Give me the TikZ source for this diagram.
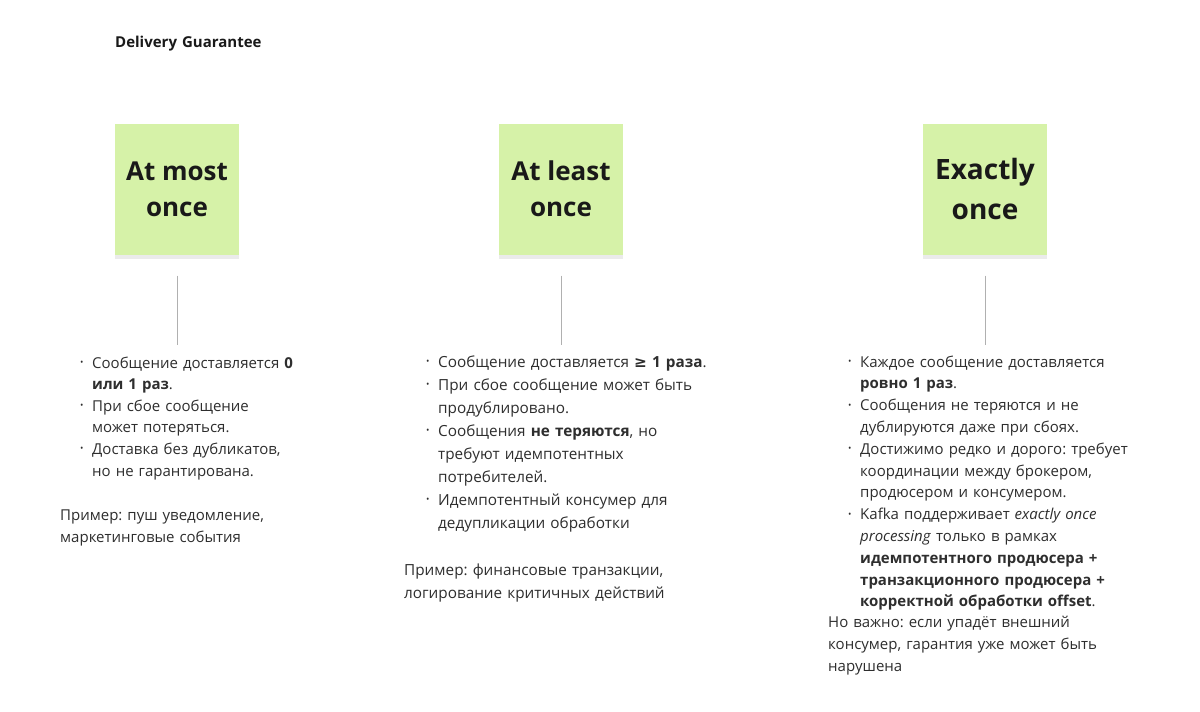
\documentclass[tikz,border=0pt]{standalone}
\usepackage{fontspec}
\setmainfont{Open Sans}
\newfontfamily\dvs{DejaVu Sans}
\usetikzlibrary{shadows}
\frenchspacing
\definecolor{sticky}{HTML}{D6F2A8}
\definecolor{txtc}{HTML}{2E2E2E}
\definecolor{linec}{HTML}{B0B0B0}
\newcommand{\bul}{\makebox[12pt][l]{\raisebox{0.3ex}{\fontsize{9}{9}\selectfont\textbullet}}}
\newcommand{\ind}{\hspace*{12pt}}
\tikzset{
  note/.style={fill=sticky, minimum width=124pt, minimum height=131pt, inner sep=0pt,
    align=center, font=\bfseries\fontsize{26}{36}\selectfont, text=black!90,
    drop shadow={shadow xshift=0pt, shadow yshift=-4pt, opacity=0.08, fill=black}},
  txt/.style={anchor=base west, inner sep=0pt, text width=330pt, align=left, text=txtc},
  conn/.style={draw=linec, line width=0.6pt},
}
\begin{document}
\begin{tikzpicture}[x=1pt,y=-1pt]
\useasboundingbox[fill=white] (0,0) rectangle (1200,712);

\node[txt, font=\bfseries\fontsize{15}{18}\selectfont, text=black!90] (title) at (115,47) {Delivery Guarantee};

\node[note] (n1) at (177,189) {At most\\once};
\node[note] (n2) at (561,189) {At least\\once};
\node[note, font=\bfseries\fontsize{28}{40}\selectfont] (n3) at (985,189) {Exactly\\once};

% column 1
\node[txt, font=\fontsize{15}{21.6}\selectfont] (c1) at (80,368) {%
\bul Сообщение доставляется \textbf{0}\\
\ind\textbf{или 1 раз}.\\
\bul При сбое сообщение\\
\ind может потеряться.\\
\bul Доставка без дубликатов,\\
\ind но не гарантирована.};
\node[txt, font=\fontsize{15}{22}\selectfont] (e1) at (60,520) {Пример: пуш уведомление,\\маркетинговые события};

% column 2
\node[txt, font=\fontsize{15.3}{23}\selectfont] (c2) at (426,367) {%
\bul Сообщение доставляется \textbf{{\dvs ≥} 1 раза}.\\
\bul При сбое сообщение может быть\\
\ind продублировано.\\
\bul Сообщения \textbf{не теряются}, но\\
\ind требуют идемпотентных\\
\ind потребителей.\\
\bul Идемпотентный консумер для\\
\ind дедупликации обработки};
\node[txt, font=\fontsize{15.3}{23}\selectfont] (e2) at (404,575) {Пример: финансовые транзакции,\\логирование критичных действий};

% column 3
\node[txt, font=\fontsize{15}{21.8}\selectfont] (c3) at (848,367) {%
\bul Каждое сообщение доставляется\\
\ind\textbf{ровно 1 раз}.\\
\bul Сообщения не теряются и не\\
\ind дублируются даже при сбоях.\\
\bul Достижимо редко и дорого: требует\\
\ind координации между брокером,\\
\ind продюсером и консумером.\\
\bul Kafka поддерживает \textit{exactly once}\\
\ind\textit{processing} только в рамках\\
\ind\textbf{идемпотентного продюсера +}\\
\ind\textbf{транзакционного продюсера +}\\
\ind\textbf{корректной обработки offset}.};
\node[txt, font=\fontsize{15}{22}\selectfont] (e3) at (828,627) {Но важно: если упадёт внешний\\консумер, гарантия уже может быть\\нарушена};

% connectors
\coordinate (t1) at (177,345);
\coordinate (t2) at (561,345);
\coordinate (t3) at (985,345);
\draw[conn] ([yshift=-21pt]n1.south) -- (t1);
\draw[conn] ([yshift=-21pt]n2.south) -- (t2);
\draw[conn] ([yshift=-21pt]n3.south) -- (t3);
\end{tikzpicture}
\end{document}
